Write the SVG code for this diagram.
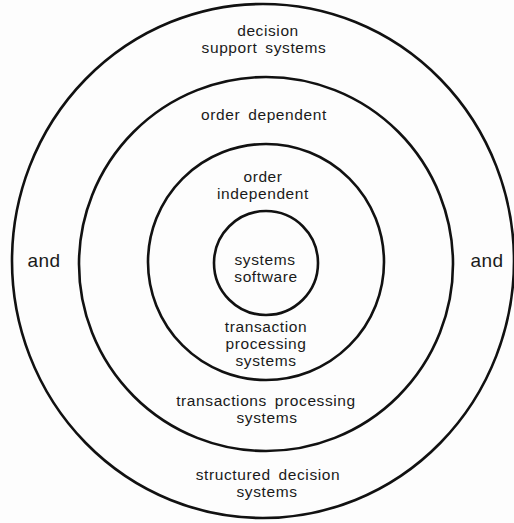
<svg xmlns="http://www.w3.org/2000/svg" width="514" height="523" viewBox="0 0 514 523">
<style>
.ring{fill:none;stroke:#111;stroke-width:2.6}
.t{font-family:"Liberation Sans",Arial,sans-serif;font-size:15.5px;letter-spacing:0.6px;fill:#1a1a1a;text-anchor:middle;word-spacing:3px}
.a{font-family:"Liberation Sans",Arial,sans-serif;font-size:19px;letter-spacing:0.4px;fill:#1a1a1a;text-anchor:middle}
</style>
<rect width="514" height="523" fill="#fdfdfd"/>
<g id="outer">
<ellipse class="ring" cx="263" cy="261" rx="251" ry="257"/>
<text class="t" x="268" y="36">decision</text>
<text class="t" x="264" y="53">support systems</text>
<text class="t" x="268" y="480">structured decision</text>
<text class="t" x="267" y="497">systems</text>
<text class="a" x="44" y="267">and</text>
<text class="a" x="487" y="267">and</text>
</g>
<g id="middle">
<circle class="ring" cx="266" cy="264" r="187"/>
<text class="t" x="264" y="120">order dependent</text>
<text class="t" x="266" y="406">transactions processing</text>
<text class="t" x="267" y="423">systems</text>
</g>
<g id="inner">
<circle class="ring" cx="266" cy="262" r="118"/>
<text class="t" x="263" y="182">order</text>
<text class="t" x="263" y="199">independent</text>
<text class="t" x="266" y="332">transaction</text>
<text class="t" x="266" y="349">processing</text>
<text class="t" x="266" y="366">systems</text>
</g>
<g id="core">
<circle class="ring" cx="266" cy="263" r="52"/>
<text class="t" x="265" y="265">systems</text>
<text class="t" x="266" y="282">software</text>
</g>
<g id="connectors"/>
</svg>
